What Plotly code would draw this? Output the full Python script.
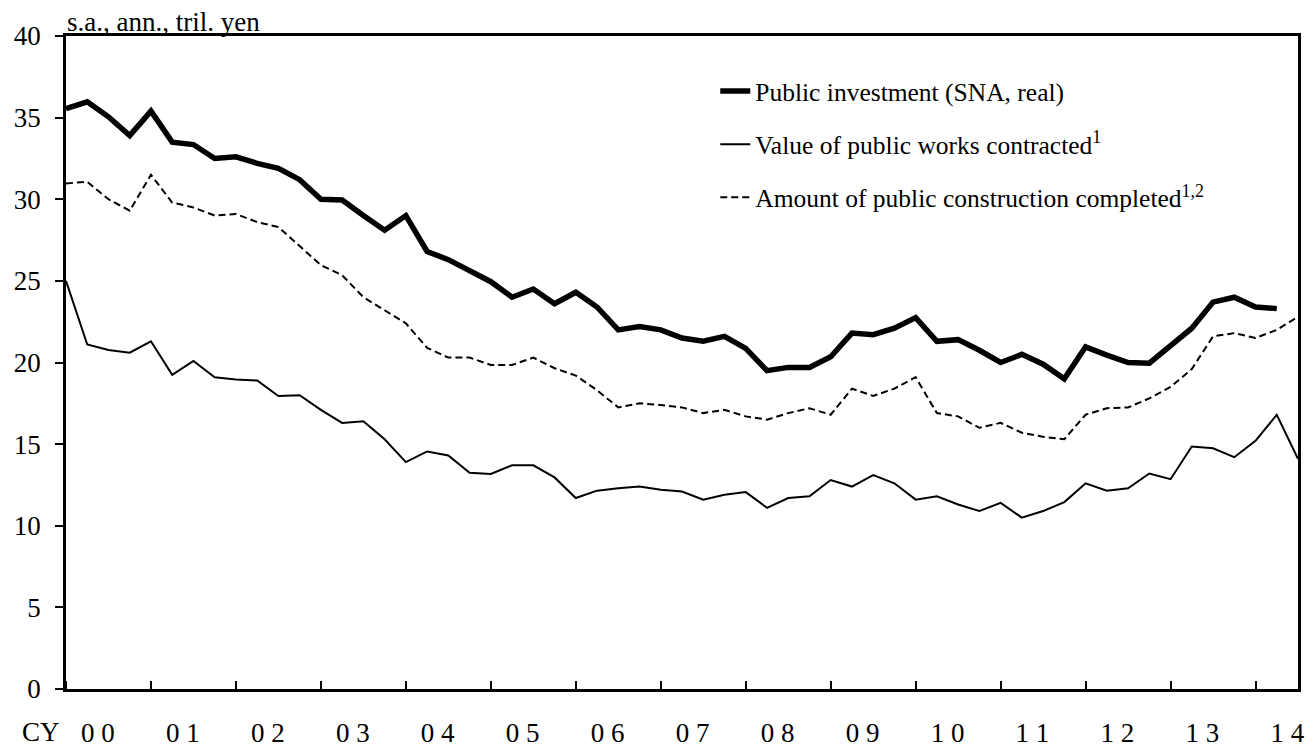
import plotly.graph_objects as go

# quarterly, 2000Q1 .. 2014Q3
quarters = [f"{y}Q{q}" for y in range(2000, 2015) for q in range(1, 5)][:59]
year_labels = ["0 0", "0 1", "0 2", "0 3", "0 4", "0 5", "0 6", "0 7",
               "0 8", "0 9", "1 0", "1 1", "1 2", "1 3", "1 4"]

public_investment = [35.55, 35.97, 35.05, 33.9, 35.4, 33.5, 33.35, 32.5, 32.6, 32.2,
                     31.9, 31.2, 30.0, 29.95, 29.0, 28.1, 29.0, 26.8, 26.3, 25.66,
                     24.95, 24.0, 24.5, 23.6, 24.3, 23.4, 22.0, 22.2, 22.0, 21.5,
                     21.3, 21.6, 20.86, 19.5, 19.7, 19.7, 20.35, 21.8, 21.7, 22.1,
                     22.75, 21.3, 21.4, 20.75, 20.0, 20.5, 19.9, 19.0, 20.96, 20.45,
                     20.0, 19.96, 21.0, 22.1, 23.7, 24.0, 23.4, 23.3]

works_contracted = [25.0, 21.1, 20.76, 20.6, 21.3, 19.25, 20.1, 19.1, 18.96, 18.9,
                    17.95, 18.0, 17.1, 16.3, 16.4, 15.3, 13.9, 14.55, 14.3, 13.25,
                    13.17, 13.7, 13.7, 12.96, 11.7, 12.15, 12.3, 12.4, 12.2, 12.1,
                    11.6, 11.9, 12.06, 11.1, 11.7, 11.8, 12.8, 12.4, 13.1, 12.6,
                    11.6, 11.8, 11.3, 10.9, 11.4, 10.5, 10.9, 11.45, 12.6, 12.15,
                    12.3, 13.2, 12.85, 14.85, 14.75, 14.2, 15.2, 16.8, 14.1]

construction_completed = [30.97, 31.07, 30.0, 29.3, 31.5, 29.8, 29.5, 29.0, 29.1, 28.6,
                          28.3, 27.1, 25.96, 25.35, 24.0, 23.2, 22.4, 20.9, 20.3, 20.3,
                          19.85, 19.85, 20.3, 19.65, 19.2, 18.3, 17.25, 17.5, 17.4, 17.25,
                          16.9, 17.1, 16.7, 16.5, 16.9, 17.2, 16.8, 18.4, 17.95, 18.4,
                          19.1, 16.9, 16.7, 16.0, 16.3, 15.7, 15.45, 15.3, 16.8, 17.2,
                          17.25, 17.8, 18.5, 19.6, 21.6, 21.8, 21.5, 22.0, 22.8]

idx = list(range(len(quarters)))
FONT = "Liberation Serif, Times New Roman, serif"

fig = go.Figure()
fig.add_trace(go.Scatter(x=idx[:len(public_investment)], y=public_investment, mode="lines",
                         name="Public investment (SNA, real)", legendgroup="a",
                         line=dict(color="black", width=5.5)))
fig.add_trace(go.Scatter(x=idx[:len(works_contracted)], y=works_contracted, mode="lines",
                         name="Value of public works contracted<sup>1</sup>", legendgroup="b",
                         line=dict(color="black", width=2)))
fig.add_trace(go.Scatter(x=idx[:len(construction_completed)], y=construction_completed, mode="lines",
                         name="Amount of public construction completed<sup>1,2</sup>", legendgroup="c",
                         line=dict(color="black", width=2, dash="7px,4px")))

# page body has an 8px margin, so the figure is a bit smaller than the window
fig.update_layout(
    width=1307, height=743,
    margin=dict(l=58, r=17, t=28, b=62),
    paper_bgcolor="white", plot_bgcolor="white",
    font=dict(family=FONT, size=25, color="black"),
    showlegend=True,
    legend=dict(x=0.527, y=0.951, xanchor="left", yanchor="top",
                bgcolor="rgba(0,0,0,0)", tracegroupgap=17,
                font=dict(size=25.5)),
    xaxis=dict(range=[0, len(quarters) - 1], showgrid=False, zeroline=False,
               automargin=False,
               showline=True, linecolor="black", linewidth=2.5, mirror=True,
               tickmode="array", tickvals=[4 * i + 1.5 for i in range(len(year_labels))],
               ticktext=year_labels, ticks="", ticklabelstandoff=18,
               tickfont=dict(size=27),
               minor=dict(tickmode="linear", tick0=0, dtick=4, ticks="inside",
                          ticklen=8, tickwidth=2, tickcolor="black", showgrid=False)),
    yaxis=dict(range=[0, 40], dtick=5, showgrid=False, zeroline=False,
               automargin=False,
               showline=True, linecolor="black", linewidth=2.5, mirror=True,
               ticks="outside", ticklen=8, tickwidth=2, tickcolor="black",
               tickfont=dict(size=27), ticklabelstandoff=9),
)

fig.add_annotation(text="s.a., ann., tril. yen", xref="paper", yref="paper",
                   x=0, y=1, xanchor="left", yanchor="bottom", showarrow=False,
                   font=dict(size=27), borderpad=0, yshift=-2)
fig.add_annotation(text="CY", xref="paper", yref="paper",
                   x=-0.037, y=0, xanchor="left", yanchor="middle", showarrow=False,
                   font=dict(size=27), yshift=-43)

fig.write_html("out.html")
